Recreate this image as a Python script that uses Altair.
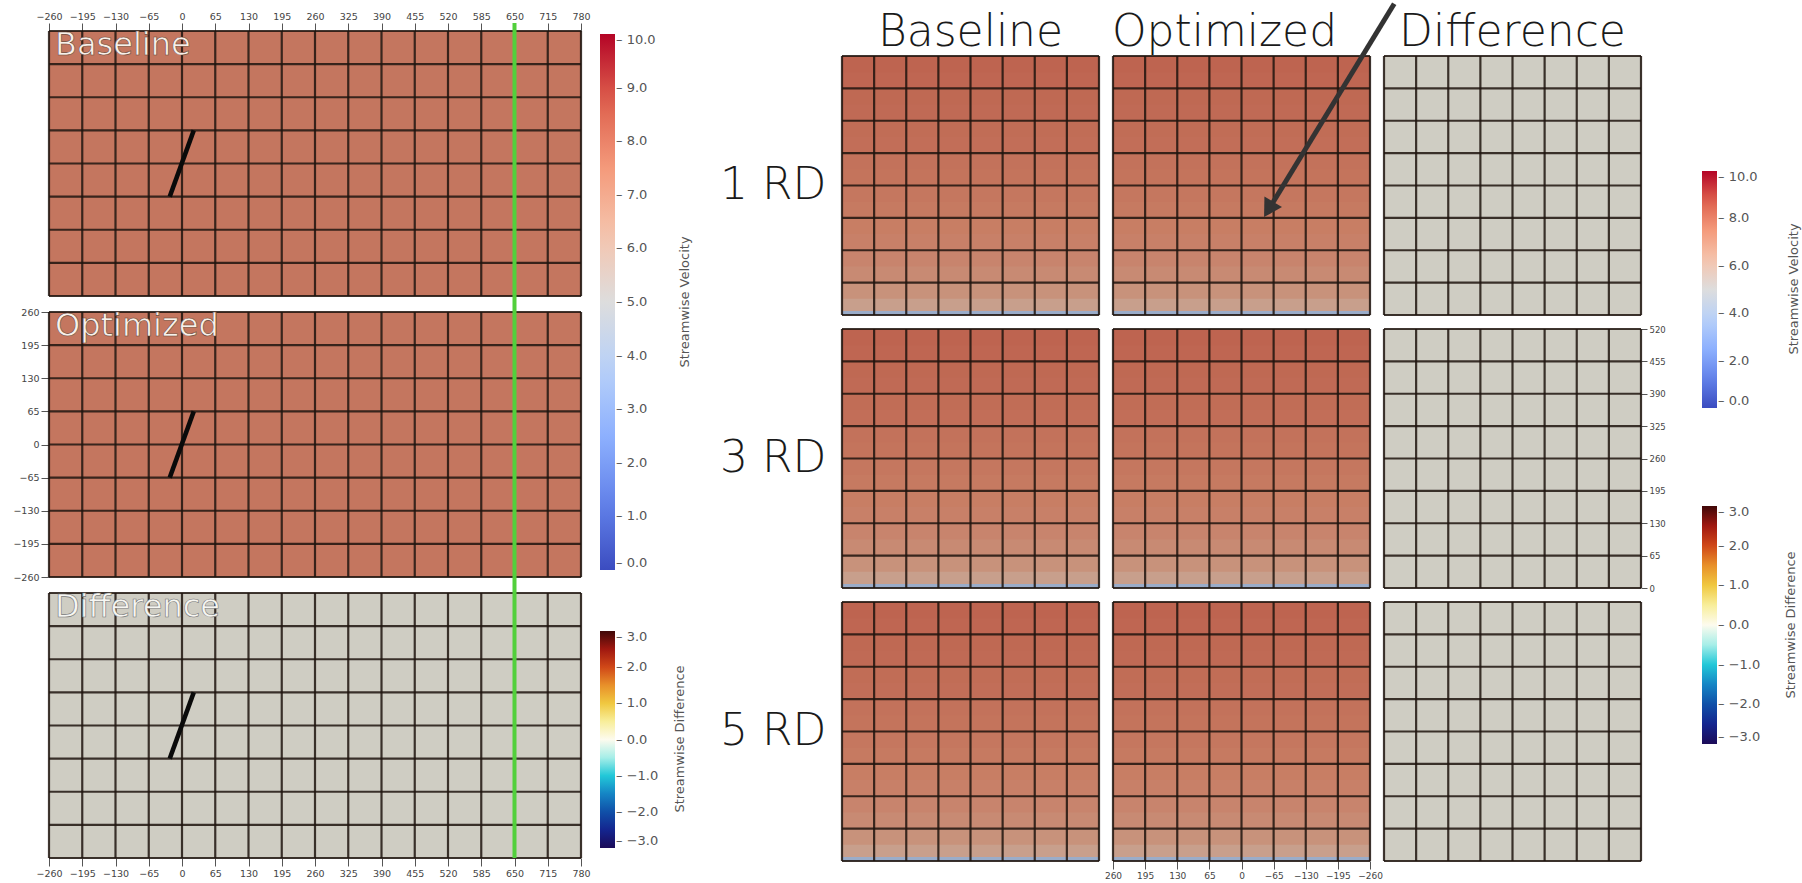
import altair as alt
import pandas as pd

# ---------------- data ----------------
LEFT_X_TICKS = [-260, -195, -130, -65, 0, 65, 130, 195, 260, 325, 390, 455, 520, 585, 650, 715, 780]
LEFT_Y_TICKS = [-260, -195, -130, -65, 0, 65, 130, 195, 260]
SLICE_Y_TICKS = [260, 195, 130, 65, 0, -65, -130, -195, -260]
SLICE_Z_TICKS = [0, 65, 130, 195, 260, 325, 390, 455, 520]

PLANE_NAMES = ["Baseline", "Optimized", "Difference"]
PLANE_VALUE = [7.7, 7.7, 0.0]

TURBINE_X = [-24, 23]
TURBINE_Y = [-65, 65]
PROBE_X = [650]

SLICE_ROWS = ["1 RD", "3 RD", "5 RD"]
SLICE_COLS = ["Baseline", "Optimized", "Difference"]
BAND_BOTTOM = [0, 8, 32.5, 65, 97.5, 130, 162.5, 195, 227.5, 260, 292.5, 325, 357.5, 390, 422.5, 455, 487.5]
BAND_U = [3.9, 6.3, 6.8, 7.05, 7.25, 7.4, 7.5, 7.6, 7.68, 7.76, 7.83, 7.9, 7.96, 8.02, 8.07, 8.12, 8.17]
BAND_DU = [0.0, 0.0, 0.0, 0.0, 0.0, 0.0, 0.0, 0.0, 0.0, 0.0, 0.0, 0.0, 0.0, 0.0, 0.0, 0.0, 0.0]

VEL_STOPS = [0, 1.25, 2.5, 3.75, 5, 6.25, 7.5, 8.75, 10]
VEL_COLORS = ["#3b4cc0", "#6282ea", "#8db0fe", "#b8d0f9", "#dddddd", "#f5c4ad", "#f49a7b", "#de604d", "#b40426"]
DIFF_STOPS = [-3, -2.5, -2, -1.5, -1, -0.5, 0, 0.5, 1, 1.5, 2, 2.5, 3]
DIFF_COLORS = ["#1c0b58", "#14258f", "#1050a8", "#1585c5", "#22c8d8", "#a6eee8", "#fdfbee",
               "#f8ee9a", "#f0c840", "#e8902a", "#d04818", "#a01810", "#400808"]

VEL_TICKS_LEFT = [0, 1, 2, 3, 4, 5, 6, 7, 8, 9, 10]
VEL_TICKS_RIGHT = [0, 2, 4, 6, 8, 10]
DIFF_TICKS = [-3, -2, -1, 0, 1, 2, 3]

ARROW_FROM = [-309, 625]
ARROW_TO = [-58, 217]

# ---------------- style ----------------
FONT = "DejaVu Sans"
GRID_COLOR = "#1e140e"
W_L, H_L = 532, 265
W_R, H_R = 257, 259
TITLE_ROW_H = 11
NO_VIEW = alt.ViewBackground(stroke="transparent", fill="transparent", strokeWidth=0)

VEL_SCALE = alt.Scale(domain=VEL_STOPS, range=VEL_COLORS, interpolate="rgb", clamp=True)
DIFF_SCALE = alt.Scale(domain=DIFF_STOPS, range=DIFF_COLORS, interpolate="rgb", clamp=True)


def colorbar(values, lx, ly, length):
    return alt.Legend(
        title=None, orient="none", legendX=lx, legendY=ly, direction="vertical",
        gradientLength=length, gradientThickness=15, gradientStrokeWidth=0,
        values=values, format=".1f", labelExpr="'\u2013 ' + datum.label",
        labelFontSize=13, labelColor="#555555", labelFont=FONT, labelOffset=1,
        labelBaseline="middle", labelOverlap=False, padding=0,
    )


def colorbar_title(text, px, py):
    return alt.Chart(pd.DataFrame({"t": [text]})).mark_text(
        angle=270, align="center", baseline="middle", font=FONT, fontSize=13, color="#555555"
    ).encode(x=alt.value(px), y=alt.value(py), text="t:N")


def grid_layers(xs, ys, xticks, yticks, x_axis, y_axis):
    gx = alt.Chart(pd.DataFrame({"gx": xticks})).mark_rule(
        color=GRID_COLOR, opacity=0.85, strokeWidth=2.2
    ).encode(x=alt.X("gx:Q", scale=xs, axis=x_axis))
    gy = alt.Chart(pd.DataFrame({"gy": yticks})).mark_rule(
        color=GRID_COLOR, opacity=0.85, strokeWidth=2.2
    ).encode(y=alt.Y("gy:Q", scale=ys, axis=y_axis))
    return [gx, gy]


def shade_layer(xs, ys, xticks, yticks, x_axis, y_axis):
    d = pd.DataFrame({"sx0": [min(xticks)], "sx1": [max(xticks)],
                      "sy0": [min(yticks)], "sy1": [max(yticks)]})
    return alt.Chart(d).mark_rect(color="black", opacity=0.18).encode(
        x=alt.X("sx0:Q", scale=xs, axis=x_axis), x2="sx1",
        y=alt.Y("sy0:Q", scale=ys, axis=y_axis), y2="sy1")


AX_LABEL = dict(labelFont=FONT, labelFontSize=9.5, labelColor="#444444", tickColor="#555555",
                tickSize=8, tickWidth=1, labelPadding=2, domain=False, grid=False,
                labelOverlap=False, labelFlush=False)

# ---------------- left: hub-height planes ----------------
xs_sorted = sorted(LEFT_X_TICKS)
ys_sorted = sorted(LEFT_Y_TICKS)
left_rows = []
for name, val in zip(PLANE_NAMES, PLANE_VALUE):
    for i in range(len(xs_sorted) - 1):
        for j in range(len(ys_sorted) - 1):
            left_rows.append(dict(panel=name, x0=xs_sorted[i], x1=xs_sorted[i + 1],
                                  y0=ys_sorted[j], y1=ys_sorted[j + 1], val=val))
left_cells = pd.DataFrame(left_rows)


def left_panel(name):
    is_diff = name == "Difference"
    field = "du" if is_diff else "u"
    d = left_cells[left_cells.panel == name].rename(columns={"val": field})
    xs = alt.Scale(domain=[xs_sorted[0], xs_sorted[-1]], nice=False, zero=False)
    ys = alt.Scale(domain=[ys_sorted[0], ys_sorted[-1]], nice=False, zero=False)

    if name == "Baseline":
        x_axis = alt.Axis(orient="top", values=LEFT_X_TICKS, title=" ", titleFontSize=6,
                          titlePadding=0, **AX_LABEL)
    elif is_diff:
        x_axis = alt.Axis(orient="bottom", values=LEFT_X_TICKS, title=None, **AX_LABEL)
    else:
        x_axis = None
    if name == "Optimized":
        y_axis = alt.Axis(orient="left", values=LEFT_Y_TICKS, title=None, **AX_LABEL)
    else:
        y_axis = None

    extra = []
    if name == "Baseline":
        legend = colorbar(VEL_TICKS_LEFT, 551, 3, 536)
        extra.append(colorbar_title("Streamwise Velocity", 636, 271))
    elif is_diff:
        legend = colorbar(DIFF_TICKS, 551, 38, 217)
        extra.append(colorbar_title("Streamwise Difference", 631, 146))
    else:
        legend = None

    cells = alt.Chart(d).mark_rect().encode(
        x=alt.X("x0:Q", scale=xs, axis=x_axis), x2="x1",
        y=alt.Y("y0:Q", scale=ys, axis=y_axis), y2="y1",
        color=alt.Color(f"{field}:Q", scale=DIFF_SCALE if is_diff else VEL_SCALE, legend=legend),
    )
    turbine = alt.Chart(pd.DataFrame({"tx0": [TURBINE_X[0]], "tx1": [TURBINE_X[1]],
                                      "ty0": [TURBINE_Y[0]], "ty1": [TURBINE_Y[1]]})).mark_rule(
        color="#0a0a0a", strokeWidth=4.5).encode(
        x=alt.X("tx0:Q", scale=xs, axis=x_axis), x2="tx1",
        y=alt.Y("ty0:Q", scale=ys, axis=y_axis), y2="ty1")
    probe = alt.Chart(pd.DataFrame({"px": PROBE_X})).mark_rule(
        color="#52d03c", strokeWidth=4).encode(
        x=alt.X("px:Q", scale=xs, axis=x_axis),
        y=alt.value(-8), y2=alt.value(H_L if is_diff else H_L + 8))
    label = alt.Chart(pd.DataFrame({"name": [name]})).mark_text(
        align="left", baseline="top", font=FONT, fontSize=32, fontWeight="normal",
        fill="#f8f0ea" if not is_diff else "#f6f6f2",
        stroke="#6a4432" if not is_diff else "#777777", strokeWidth=0.6,
    ).encode(x=alt.value(6), y=alt.value(-1), text="name:N")

    layers = [cells, shade_layer(xs, ys, xs_sorted, ys_sorted, x_axis, y_axis)] + \
        grid_layers(xs, ys, LEFT_X_TICKS, LEFT_Y_TICKS, x_axis, y_axis) + \
        [turbine, probe, label] + extra
    return alt.layer(*layers).properties(width=W_L, height=H_L)


left_block = alt.vconcat(*[left_panel(n) for n in PLANE_NAMES], spacing=16,
                         bounds="flush").resolve_scale(color="independent")

# ---------------- right: cross-stream slices ----------------
y_lo, y_hi = min(SLICE_Y_TICKS), max(SLICE_Y_TICKS)
z_top = max(SLICE_Z_TICKS)


def column_title(ci):
    return alt.Chart(pd.DataFrame({"t": [SLICE_COLS[ci]]})).mark_text(
        font=FONT, fontSize=44, fontWeight=300, color="#1a1a1a", align="center",
        baseline="alphabetic"
    ).encode(x=alt.value(W_R / 2 + (-17 if ci == 1 else 0)), y=alt.value(15), text="t:N"
             ).properties(width=W_R, height=TITLE_ROW_H, view=NO_VIEW)


def slice_panel(ri, ci):
    row, col = SLICE_ROWS[ri], SLICE_COLS[ci]
    is_diff = col == "Difference"
    field = "du" if is_diff else "u"
    vals = BAND_DU if is_diff else BAND_U
    d = pd.DataFrame({"s0": [y_lo] * len(BAND_BOTTOM), "s1": [y_hi] * len(BAND_BOTTOM),
                      "z0": BAND_BOTTOM, "z1": [z_top] * len(BAND_BOTTOM), field: vals})
    xs = alt.Scale(domain=[y_lo, y_hi], reverse=True, nice=False, zero=False)
    zs = alt.Scale(domain=[0, z_top], nice=False, zero=False)

    if ri == 2 and ci == 1:
        x_axis = alt.Axis(orient="bottom", values=SLICE_Y_TICKS, title=None,
                          **{**AX_LABEL, "labelFontSize": 9})
    else:
        x_axis = None
    if ci == 0:
        y_axis = alt.Axis(orient="left", values=SLICE_Z_TICKS, labels=False, ticks=False,
                          domain=False, grid=False, title=row, titleAngle=0, titleAlign="right",
                          titleBaseline="middle", titleX=-16, titleY=H_R / 2, titleFontSize=44,
                          titleFont=FONT, titleFontWeight=300, titleColor="#1a1a1a")
    elif ri == 1 and ci == 2:
        y_axis = alt.Axis(orient="right", values=SLICE_Z_TICKS, title=None,
                          **{**AX_LABEL, "labelFontSize": 8.5, "tickSize": 6})
    else:
        y_axis = None

    extra = []
    if ri == 0 and ci == 1:
        legend = colorbar(VEL_TICKS_RIGHT, 589, 115, 237)
        extra.append(colorbar_title("Streamwise Velocity", 681, 233))
    elif ri == 1 and ci == 2:
        legend = colorbar(DIFF_TICKS, 318, 177, 238)
        extra.append(colorbar_title("Streamwise Difference", 407, 296))
    else:
        legend = None

    cells = alt.Chart(d).mark_rect().encode(
        x=alt.X("s0:Q", scale=xs, axis=x_axis), x2="s1",
        y=alt.Y("z0:Q", scale=zs, axis=y_axis), y2="z1",
        color=alt.Color(f"{field}:Q", scale=DIFF_SCALE if is_diff else VEL_SCALE, legend=legend),
        order=alt.Order("z0:Q"),
    )
    layers = [cells, shade_layer(xs, zs, SLICE_Y_TICKS, SLICE_Z_TICKS, x_axis, y_axis)] + \
        grid_layers(xs, zs, SLICE_Y_TICKS, SLICE_Z_TICKS, x_axis, y_axis) + extra

    if ri == 0 and ci == 1:
        adf = pd.DataFrame({"ax0": [ARROW_FROM[0]], "ay0": [ARROW_FROM[1]],
                            "ax1": [ARROW_TO[0]], "ay1": [ARROW_TO[1]]})
        shaft = alt.Chart(adf).mark_rule(color="#333333", strokeWidth=5).encode(
            x=alt.X("ax0:Q", scale=xs, axis=x_axis), x2="ax1",
            y=alt.Y("ay0:Q", scale=zs, axis=y_axis), y2="ay1")
        head = alt.Chart(adf).mark_point(shape="triangle", angle=211, size=420, filled=True,
                                         color="#333333", opacity=1).encode(
            x=alt.X("ax1:Q", scale=xs, axis=x_axis), y=alt.Y("ay1:Q", scale=zs, axis=y_axis))
        layers += [shaft, head]

    return alt.layer(*layers).properties(width=W_R, height=H_R)


right_charts = [column_title(c) for c in range(3)] + \
    [slice_panel(r, c) for r in range(3) for c in range(3)]
right_block = alt.concat(*right_charts, columns=3, spacing=14,
                         bounds="flush").resolve_scale(color="independent")

chart = alt.hconcat(left_block, right_block, spacing=26).resolve_scale(
    color="independent"
).properties(
    padding={"left": 12, "top": 0, "right": 0, "bottom": 0}
).configure_view(stroke="transparent", strokeWidth=0).configure(background="white")

chart.save("out.html", embed_options={"renderer": "svg", "actions": False})
